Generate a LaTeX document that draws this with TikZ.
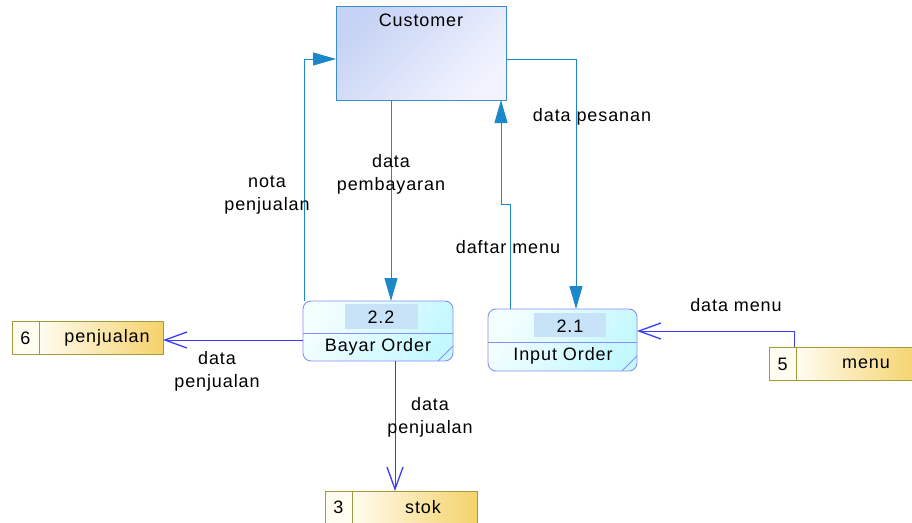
\documentclass[tikz,border=0pt]{standalone}
\usepackage{fontspec}
\setmainfont{Liberation Sans}[LetterSpace=5]
\usetikzlibrary{arrows.meta,calc}

\definecolor{custedge}{HTML}{3C8CC8}
\definecolor{custA}{HTML}{C6D3F4}
\definecolor{custB}{HTML}{F2F3FE}
\definecolor{flowc}{HTML}{1A88C9}
\definecolor{procedge}{HTML}{8C8CF8}
\definecolor{procA}{HTML}{F3FEFF}
\definecolor{procB}{HTML}{C4F8FF}
\definecolor{tagfill}{HTML}{C8E2F8}
\definecolor{storeedge}{HTML}{A09A3C}
\definecolor{storeA}{HTML}{FFFCF0}
\definecolor{storeB}{HTML}{F5D26A}
\definecolor{dataflow}{HTML}{3A3AF8}

\tikzset{
  every node/.style={font=\fontsize{18}{23}\selectfont, inner sep=0pt},
  entity/.style={draw=custedge, line width=0.9pt, top color=custA, bottom color=custB, shading angle=45},
  procbox/.style={draw=procedge, line width=0.9pt, rounded corners=8pt, top color=procA, bottom color=procB, shading angle=60},
  tagbox/.style={fill=tagfill},
  storebox/.style={draw=storeedge, line width=0.9pt, left color=storeA, right color=storeB},
  numcell/.style={draw=storeedge, line width=0.9pt, fill=storeA},
  flow/.style={draw=flowc, line width=0.9pt, -{Triangle[length=23pt,width=13pt]}},
  dflow/.style={draw=dataflow, line width=0.9pt, -{Straight Barb[length=22pt,width=16pt,line width=1.3pt]}},
  lbl/.style={align=center, text=black},
}

\begin{document}
\begin{tikzpicture}[x=1pt,y=-1pt]
\useasboundingbox (0,0) rectangle (912,522);

% external entity
\path[entity] (336,6) rectangle (506,100);
\coordinate (cust) at (421,53);
\node (custN) at (421,20) {Customer};
\coordinate (custS) at (421,100);
\coordinate (custW) at (336,59);
\coordinate (custE) at (506,59);

% process 2.2
\path[procbox] (303,301) rectangle (453,361);
\path[tagbox] (345,304) rectangle (418,329);
\draw[procedge, line width=0.9pt] (303,333) -- (453,333);
\draw[procedge, line width=0.8pt] (453,346) -- (438,361);
\node (p22num) at (381,317) {2.2};
\node (p22) at (378,347) {Bayar Order};

% process 2.1
\path[procbox] (488,309) rectangle (637,371);
\path[tagbox] (534,313) rectangle (606,337);
\draw[procedge, line width=0.9pt] (488,342) -- (637,342);
\draw[procedge, line width=0.8pt] (637,356) -- (622,371);
\node (p21num) at (570,326) {2.1};
\node (p21) at (563,356) {Input Order};

% data stores
\path[storebox] (39,321) rectangle (163,354);
\path[numcell] (12,321) rectangle (39,354);
\node (s6n) at (25.5,338) {6};
\node (s6) at (107,338) {penjualan};

\path[storebox] (796,347) rectangle (920,380);
\path[numcell] (769,347) rectangle (796,380);
\node (s5n) at (782.5,364) {5};
\node (s5) at (866,364) {menu};

\path[storebox] (352,491) rectangle (477,530);
\path[numcell] (325,491) rectangle (352,530);
\node (s3n) at (338.5,507) {3};
\node (s3) at (423,507) {stok};

% anchor points of the flows
\coordinate (p22top) at (304,301);
\coordinate (p22in) at (391,301);
\coordinate (p22left) at (303,340);
\coordinate (p22bot) at (395,361);
\coordinate (p21out) at (510,309);
\coordinate (p21in) at (576,309);
\coordinate (p21right) at (637,331);
\coordinate (s6east) at (163,340);
\coordinate (s5top) at (794,347);
\coordinate (s3top) at (395,491);

% flows to and from the customer
\draw[flow] (p22top) |- (custW);
\draw[flow] (391,100) -- (p22in);
\draw[flow] (p21out) -- (510,204) -- (501,204) -- (501,100);
\draw[flow] (custE) -| (p21in);

% flows to and from the stores
\draw[dflow] (s5top) |- (p21right);
\draw[dflow] (p22left) -- (s6east);
\draw[dflow] (p22bot) -- (s3top);

% flow labels
\node[lbl] (l1) at (267,195) {nota\\penjualan};
\node[lbl] (l2) at (391,174) {data\\pembayaran};
\node[lbl] (l3) at (508,247) {daftar menu};
\node[lbl] (l4) at (592,117) {data pesanan};
\node[lbl] (l5) at (736,305) {data menu};
\node[lbl] (l6) at (217,371) {data\\penjualan};
\node[lbl] (l7) at (430,417) {data\\penjualan};
\end{tikzpicture}
\end{document}
